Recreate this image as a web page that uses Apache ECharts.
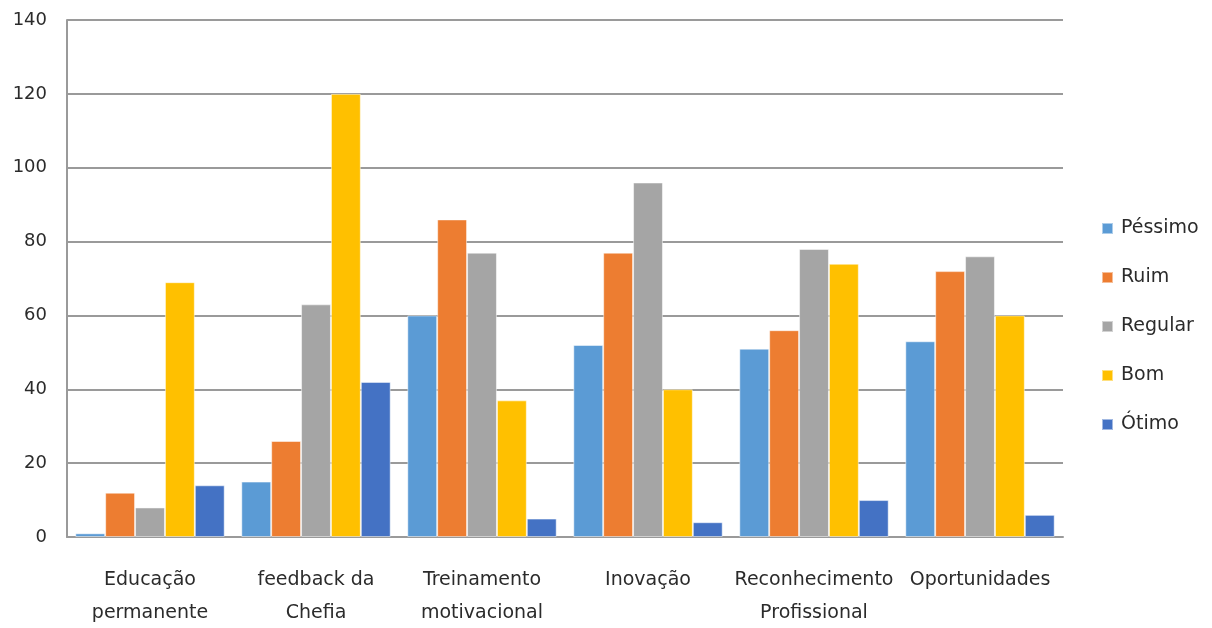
<!DOCTYPE html>
<html>
<head>
<meta charset="utf-8">
<script src="https://cdn.jsdelivr.net/npm/echarts@6/dist/echarts.min.js"></script>
<style>
  html, body { margin: 0; padding: 0; background: #fff; }
  #chart { width: 1212px; height: 628px; }
</style>
</head>
<body>
<div id="chart"></div>
<script>
// Evaluation categories (x axis)
const categories = [
  'Educação\npermanente',
  'feedback da\nChefia',
  'Treinamento\nmotivacional',
  'Inovação',
  'Reconhecimento\nProfissional',
  'Oportunidades'
];

// Rating series
const pessimo = [1, 15, 60, 52, 51, 53];
const ruim    = [12, 26, 86, 77, 56, 72];
const regular = [8, 63, 77, 96, 78, 76];
const bom     = [69, 120, 37, 40, 74, 60];
const otimo   = [14, 42, 5, 4, 10, 6];

const seriesNames = ['Péssimo', 'Ruim', 'Regular', 'Bom', 'Ótimo'];
const seriesData = [pessimo, ruim, regular, bom, otimo];
const colors = ['#5B9BD5', '#ED7D31', '#A5A5A5', '#FFC000', '#4472C4'];

const font = 'DejaVu Sans, sans-serif';
const textColor = '#2b2b2b';
const chart = echarts.init(document.getElementById('chart'));

chart.setOption({
  animation: false,
  color: colors,
  textStyle: { fontFamily: font },
  grid: {
    left: 67, right: 149, top: 20, bottom: 91,
    containLabel: false,
    outerBoundsMode: 'none'
  },
  legend: {
    orient: 'vertical',
    left: 1096,
    top: 214,
    itemWidth: 11,
    itemHeight: 11,
    itemGap: 30,
    icon: 'rect',
    textStyle: {
      fontSize: 19, lineHeight: 18, color: textColor, fontFamily: font,
      padding: [0, 0, 0, 3]
    },
    data: seriesNames
  },
  xAxis: {
    type: 'category',
    data: categories,
    axisTick: { show: false },
    axisLine: { lineStyle: { color: '#9a9a9a', width: 2 } },
    axisLabel: {
      interval: 0,
      margin: 27,
      fontSize: 19,
      lineHeight: 33,
      color: textColor,
      fontFamily: font
    }
  },
  yAxis: {
    type: 'value',
    min: 0,
    max: 140,
    interval: 20,
    axisLine: { show: true, lineStyle: { color: '#9a9a9a', width: 2 } },
    axisTick: { show: false },
    splitLine: { lineStyle: { color: '#9a9a9a', width: 2 } },
    axisLabel: { fontSize: 18, color: textColor, margin: 20, fontFamily: font }
  },
  series: seriesNames.map((name, i) => ({
    name: name,
    type: 'bar',
    data: seriesData[i],
    barGap: '0%',
    barCategoryGap: '10%',
    itemStyle: { borderColor: 'rgba(255,255,255,0.5)', borderWidth: 1 }
  }))
});
</script>
</body>
</html>
